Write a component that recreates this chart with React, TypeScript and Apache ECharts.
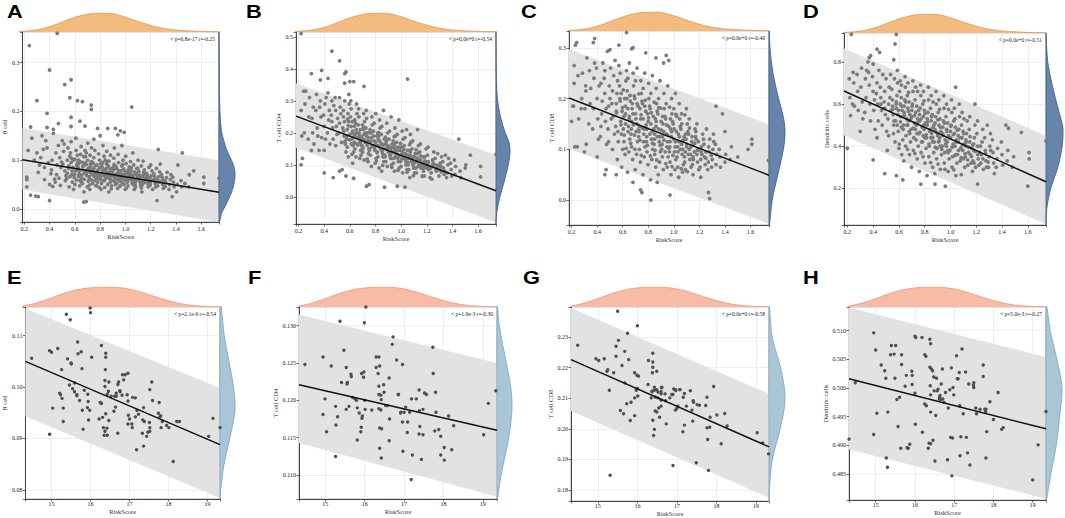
import React, { useEffect, useRef } from "react";
import * as echarts from "echarts";

// ---------------- DATA ----------------
const TOP_RISK_DENS = [[0.17,0.02],[0.2,0.04],[0.25,0.06],[0.3,0.1],[0.35,0.16],[0.4,0.25],[0.45,0.36],[0.5,0.49],[0.55,0.62],[0.6,0.74],[0.65,0.84],[0.7,0.92],[0.75,0.97],[0.8,1.0],[0.85,1.0],[0.9,0.97],[0.95,0.9],[1.0,0.8],[1.05,0.69],[1.1,0.57],[1.15,0.46],[1.2,0.36],[1.25,0.27],[1.3,0.2],[1.35,0.15],[1.4,0.11],[1.45,0.08],[1.5,0.06],[1.55,0.045],[1.6,0.03],[1.65,0.02],[1.75,0.01]];
const BOTTOM_RISK_DENS = [[14.3,0.04],[14.5,0.12],[14.75,0.25],[15.0,0.42],[15.25,0.6],[15.5,0.76],[15.75,0.88],[16.0,0.95],[16.25,0.99],[16.5,1.0],[16.75,0.97],[17.0,0.9],[17.25,0.78],[17.5,0.63],[17.75,0.47],[18.0,0.32],[18.25,0.2],[18.5,0.11],[18.75,0.06],[19.0,0.03],[19.4,0.01]];

const A_PTS = [[0.22,0.065],[0.23,0.12],[0.26,0.145],[0.28,0.1],[0.3,0.115],[0.31,0.075],[0.32,0.09],[0.34,0.15],[0.33,0.105],[0.35,0.122],[0.36,0.085],[0.37,0.14],[0.36,0.06],[0.39,0.095],[0.4,0.05],[0.38,0.125],[0.41,0.072],[0.42,0.1],[0.43,0.155],[0.415,0.08],[0.44,0.061],[0.425,0.046],[0.45,0.115],[0.46,0.09],[0.455,0.07],[0.47,0.13],[0.445,0.055],[0.48,0.105],[0.49,0.085],[0.475,0.063],[0.5,0.14],[0.485,0.048],[0.495,0.096],[0.51,0.118],[0.52,0.078],[0.505,0.092],[0.525,0.058],[0.515,0.133],[0.53,0.068],[0.54,0.1],[0.55,0.083],[0.535,0.062],[0.545,0.125],[0.555,0.045],[0.56,0.108],[0.54,0.073],[0.57,0.095],[0.575,0.07],[0.565,0.115],[0.58,0.055],[0.585,0.085],[0.57,0.138],[0.59,0.04],[0.6,0.102],[0.605,0.078],[0.595,0.064],[0.61,0.12],[0.615,0.089],[0.6,0.05],[0.62,0.11],[0.608,0.145],[0.63,0.093],[0.635,0.071],[0.625,0.085],[0.64,0.058],[0.645,0.112],[0.63,0.066],[0.65,0.128],[0.638,0.047],[0.628,0.1],[0.66,0.08],[0.665,0.095],[0.655,0.062],[0.67,0.107],[0.675,0.073],[0.66,0.052],[0.68,0.12],[0.668,0.088],[0.672,0.035],[0.69,0.091],[0.695,0.068],[0.685,0.078],[0.7,0.1],[0.705,0.057],[0.69,0.115],[0.71,0.084],[0.698,0.045],[0.702,0.135],[0.72,0.075],[0.725,0.088],[0.715,0.062],[0.73,0.097],[0.735,0.07],[0.72,0.11],[0.74,0.052],[0.728,0.082],[0.732,0.125],[0.718,0.04],[0.75,0.083],[0.755,0.066],[0.745,0.094],[0.76,0.058],[0.765,0.075],[0.75,0.105],[0.77,0.048],[0.758,0.12],[0.762,0.07],[0.78,0.079],[0.785,0.062],[0.775,0.09],[0.79,0.07],[0.795,0.1],[0.78,0.055],[0.8,0.085],[0.788,0.113],[0.792,0.044],[0.778,0.067],[0.81,0.073],[0.815,0.086],[0.805,0.06],[0.82,0.095],[0.825,0.068],[0.81,0.052],[0.83,0.108],[0.818,0.078],[0.822,0.13],[0.808,0.04],[0.84,0.07],[0.845,0.082],[0.835,0.058],[0.85,0.092],[0.855,0.064],[0.84,0.1],[0.86,0.05],[0.848,0.076],[0.852,0.118],[0.87,0.075],[0.875,0.063],[0.865,0.088],[0.88,0.055],[0.885,0.069],[0.87,0.098],[0.89,0.047],[0.878,0.082],[0.882,0.11],[0.868,0.035],[0.9,0.068],[0.905,0.08],[0.895,0.058],[0.91,0.091],[0.915,0.064],[0.9,0.073],[0.92,0.05],[0.908,0.104],[0.912,0.125],[0.93,0.072],[0.935,0.06],[0.925,0.085],[0.94,0.066],[0.945,0.095],[0.93,0.052],[0.95,0.078],[0.938,0.042],[0.942,0.112],[0.96,0.065],[0.965,0.078],[0.955,0.057],[0.97,0.088],[0.975,0.07],[0.96,0.048],[0.98,0.1],[0.968,0.062],[0.972,0.13],[0.99,0.07],[0.995,0.059],[0.985,0.082],[1.0,0.064],[1.005,0.093],[0.99,0.05],[1.01,0.075],[0.998,0.04],[1.002,0.108],[1.02,0.063],[1.025,0.074],[1.015,0.055],[1.03,0.086],[1.035,0.068],[1.02,0.047],[1.04,0.097],[1.028,0.06],[1.05,0.067],[1.055,0.058],[1.045,0.078],[1.06,0.05],[1.065,0.09],[1.05,0.062],[1.07,0.04],[1.058,0.115],[1.08,0.06],[1.085,0.072],[1.075,0.053],[1.09,0.083],[1.095,0.065],[1.08,0.045],[1.1,0.1],[1.11,0.064],[1.115,0.055],[1.105,0.077],[1.12,0.048],[1.125,0.088],[1.11,0.06],[1.13,0.035],[1.14,0.058],[1.145,0.07],[1.135,0.05],[1.15,0.08],[1.155,0.062],[1.14,0.098],[1.17,0.061],[1.175,0.052],[1.165,0.073],[1.18,0.045],[1.185,0.085],[1.17,0.066],[1.2,0.056],[1.205,0.068],[1.195,0.048],[1.21,0.078],[1.215,0.04],[1.2,0.09],[1.23,0.06],[1.235,0.052],[1.225,0.072],[1.24,0.045],[1.245,0.083],[1.26,0.055],[1.265,0.066],[1.255,0.047],[1.27,0.076],[1.275,0.092],[1.29,0.058],[1.295,0.05],[1.285,0.07],[1.3,0.042],[1.32,0.054],[1.325,0.064],[1.315,0.046],[1.33,0.075],[1.35,0.05],[1.355,0.06],[1.345,0.04],[1.36,0.07],[1.38,0.055],[1.385,0.045],[1.375,0.065],[1.41,0.05],[1.415,0.09],[1.405,0.035],[1.44,0.058],[1.445,0.045],[1.47,0.052],[1.5,0.045],[1.505,0.07]];
const A_CORE = [[0.552,0.088],[0.562,0.066],[0.578,0.078],[0.587,0.1],[0.598,0.071],[0.612,0.059],[0.622,0.082],[0.633,0.077],[0.642,0.097],[0.652,0.069],[0.662,0.087],[0.673,0.061],[0.683,0.094],[0.692,0.074],[0.703,0.082],[0.713,0.066],[0.722,0.092],[0.733,0.059],[0.743,0.079],[0.752,0.072],[0.763,0.089],[0.772,0.064],[0.783,0.074],[0.793,0.083],[0.802,0.066],[0.812,0.092],[0.822,0.058],[0.833,0.081],[0.843,0.063],[0.853,0.072],[0.862,0.086],[0.872,0.068],[0.882,0.061],[0.893,0.078],[0.902,0.085],[0.912,0.057],[0.922,0.069],[0.932,0.082],[0.943,0.074],[0.952,0.063],[0.962,0.072],[0.972,0.055],[0.983,0.066],[0.992,0.078],[1.003,0.069],[1.012,0.058],[1.022,0.08],[1.032,0.062],[1.043,0.071],[1.052,0.053],[1.062,0.068],[1.072,0.076],[1.083,0.057],[1.092,0.07],[1.102,0.062],[1.113,0.069],[1.122,0.054],[1.133,0.066],[1.142,0.075],[1.152,0.055],[1.163,0.063],[1.172,0.07],[1.183,0.058],[1.192,0.064],[1.212,0.059],[1.232,0.066],[1.252,0.061],[1.272,0.056],[1.292,0.064],[1.312,0.058],[0.573,0.104],[0.618,0.094],[0.684,0.107],[0.737,0.096],[0.806,0.093],[0.857,0.097],[0.926,0.087],[0.977,0.091],[1.046,0.084],[1.097,0.083],[0.647,0.056],[0.716,0.049],[0.767,0.047],[0.836,0.044],[0.887,0.041],[0.956,0.046],[1.006,0.042],[1.077,0.049],[1.126,0.043],[1.196,0.051]];
const A_OUT = [[0.24,0.335],[0.4,0.285],[0.52,0.255],[0.57,0.265],[0.56,0.228],[0.3,0.222],[0.62,0.222],[0.66,0.22],[0.73,0.213],[0.73,0.204],[1.05,0.209],[0.38,0.196],[0.57,0.188],[0.64,0.18],[0.47,0.175],[0.25,0.168],[0.38,0.167],[0.43,0.163],[0.57,0.169],[0.68,0.17],[0.86,0.165],[0.78,0.165],[0.92,0.165],[0.96,0.16],[0.99,0.157],[0.8,0.15],[0.75,0.143],[0.94,0.152],[1.26,0.122],[1.45,0.115],[1.54,0.078],[1.62,0.065],[1.62,0.052],[1.74,0.063],[0.46,0.36],[0.4,0.017],[0.22,0.045],[0.22,0.06],[0.25,0.028],[0.29,0.026],[0.31,0.025],[0.67,0.014],[0.69,0.015],[1.25,0.017],[1.37,0.025]];

const B_PTS = [[0.22,0.27],[0.225,0.19],[0.25,0.29],[0.245,0.2],[0.255,0.33],[0.28,0.25],[0.285,0.31],[0.275,0.18],[0.31,0.2],[0.315,0.28],[0.305,0.245],[0.32,0.165],[0.3,0.145],[0.34,0.32],[0.345,0.215],[0.335,0.27],[0.35,0.19],[0.37,0.3],[0.375,0.25],[0.365,0.28],[0.38,0.185],[0.36,0.145],[0.4,0.22],[0.405,0.29],[0.395,0.255],[0.41,0.18],[0.415,0.31],[0.4,0.145],[0.43,0.325],[0.435,0.24],[0.425,0.2],[0.44,0.27],[0.445,0.165],[0.46,0.3],[0.465,0.215],[0.455,0.255],[0.47,0.18],[0.475,0.285],[0.46,0.235],[0.49,0.27],[0.495,0.22],[0.485,0.31],[0.5,0.195],[0.505,0.245],[0.49,0.16],[0.52,0.23],[0.525,0.28],[0.515,0.2],[0.53,0.26],[0.535,0.17],[0.52,0.31],[0.54,0.085],[0.55,0.25],[0.555,0.19],[0.545,0.215],[0.56,0.3],[0.565,0.165],[0.55,0.27],[0.57,0.14],[0.558,0.235],[0.58,0.21],[0.585,0.26],[0.575,0.18],[0.59,0.235],[0.595,0.29],[0.58,0.155],[0.6,0.195],[0.588,0.125],[0.592,0.32],[0.61,0.22],[0.615,0.18],[0.605,0.25],[0.62,0.2],[0.625,0.16],[0.61,0.275],[0.63,0.14],[0.618,0.235],[0.622,0.105],[0.608,0.3],[0.64,0.195],[0.645,0.23],[0.635,0.17],[0.65,0.21],[0.655,0.26],[0.64,0.15],[0.66,0.185],[0.648,0.125],[0.652,0.29],[0.638,0.24],[0.67,0.2],[0.675,0.17],[0.665,0.225],[0.68,0.185],[0.685,0.145],[0.67,0.25],[0.69,0.16],[0.678,0.12],[0.682,0.21],[0.668,0.275],[0.7,0.18],[0.705,0.21],[0.695,0.16],[0.71,0.195],[0.715,0.235],[0.7,0.14],[0.72,0.17],[0.708,0.26],[0.712,0.115],[0.698,0.225],[0.73,0.19],[0.735,0.16],[0.725,0.215],[0.74,0.175],[0.745,0.135],[0.73,0.245],[0.75,0.15],[0.738,0.2],[0.742,0.11],[0.728,0.27],[0.76,0.17],[0.765,0.2],[0.755,0.15],[0.77,0.185],[0.775,0.225],[0.76,0.13],[0.78,0.16],[0.768,0.095],[0.772,0.25],[0.758,0.21],[0.79,0.175],[0.795,0.145],[0.785,0.205],[0.8,0.16],[0.805,0.12],[0.79,0.23],[0.81,0.19],[0.798,0.105],[0.802,0.26],[0.82,0.16],[0.825,0.19],[0.815,0.14],[0.83,0.175],[0.835,0.215],[0.82,0.125],[0.84,0.15],[0.828,0.09],[0.832,0.24],[0.818,0.2],[0.85,0.165],[0.855,0.135],[0.845,0.195],[0.86,0.15],[0.865,0.11],[0.85,0.22],[0.87,0.18],[0.858,0.125],[0.862,0.27],[0.848,0.08],[0.88,0.15],[0.885,0.175],[0.875,0.125],[0.89,0.16],[0.895,0.2],[0.88,0.11],[0.9,0.14],[0.888,0.23],[0.892,0.095],[0.878,0.185],[0.91,0.155],[0.915,0.13],[0.905,0.18],[0.92,0.14],[0.925,0.1],[0.91,0.205],[0.93,0.165],[0.918,0.12],[0.922,0.25],[0.94,0.14],[0.945,0.165],[0.935,0.12],[0.95,0.15],[0.955,0.19],[0.94,0.105],[0.96,0.13],[0.948,0.08],[0.952,0.215],[0.938,0.175],[0.97,0.145],[0.975,0.12],[0.965,0.17],[0.98,0.13],[0.985,0.09],[0.97,0.195],[0.99,0.155],[0.978,0.11],[0.982,0.24],[1.0,0.13],[1.005,0.155],[0.995,0.11],[1.01,0.14],[1.015,0.18],[1.0,0.095],[1.02,0.12],[1.008,0.205],[1.012,0.075],[1.03,0.135],[1.035,0.11],[1.025,0.16],[1.04,0.12],[1.045,0.085],[1.03,0.185],[1.05,0.145],[1.038,0.1],[1.042,0.21],[1.06,0.12],[1.065,0.145],[1.055,0.1],[1.07,0.13],[1.075,0.17],[1.06,0.085],[1.08,0.11],[1.068,0.06],[1.072,0.195],[1.09,0.125],[1.095,0.1],[1.085,0.15],[1.1,0.11],[1.105,0.075],[1.09,0.175],[1.11,0.135],[1.098,0.09],[1.12,0.11],[1.125,0.135],[1.115,0.09],[1.13,0.12],[1.135,0.16],[1.12,0.075],[1.14,0.1],[1.128,0.21],[1.15,0.115],[1.155,0.09],[1.145,0.14],[1.16,0.1],[1.165,0.065],[1.15,0.165],[1.17,0.125],[1.18,0.1],[1.185,0.125],[1.175,0.08],[1.19,0.11],[1.195,0.15],[1.18,0.065],[1.2,0.09],[1.21,0.105],[1.215,0.085],[1.205,0.13],[1.22,0.095],[1.225,0.06],[1.21,0.155],[1.24,0.095],[1.245,0.115],[1.235,0.075],[1.25,0.105],[1.255,0.14],[1.24,0.055],[1.27,0.1],[1.275,0.08],[1.265,0.12],[1.28,0.09],[1.285,0.135],[1.3,0.085],[1.305,0.105],[1.295,0.065],[1.31,0.095],[1.315,0.125],[1.33,0.09],[1.335,0.07],[1.325,0.11],[1.34,0.08],[1.345,0.13],[1.36,0.075],[1.365,0.1],[1.355,0.06],[1.37,0.12],[1.39,0.085],[1.395,0.065],[1.385,0.105],[1.42,0.07],[1.425,0.095],[1.415,0.115],[1.46,0.08],[1.465,0.06],[1.5,0.09],[1.505,0.1]];
const B_CORE = [[0.552,0.205],[0.562,0.172],[0.578,0.19],[0.587,0.222],[0.598,0.178],[0.612,0.165],[0.622,0.205],[0.633,0.188],[0.642,0.168],[0.652,0.2],[0.662,0.162],[0.673,0.195],[0.683,0.17],[0.692,0.188],[0.703,0.152],[0.713,0.178],[0.722,0.2],[0.733,0.168],[0.743,0.185],[0.752,0.145],[0.763,0.175],[0.772,0.158],[0.783,0.19],[0.793,0.152],[0.802,0.17],[0.812,0.138],[0.822,0.18],[0.833,0.155],[0.843,0.168],[0.853,0.142],[0.862,0.162],[0.872,0.13],[0.882,0.168],[0.893,0.148],[0.902,0.158],[0.912,0.128],[0.922,0.152],[0.932,0.138],[0.943,0.158],[0.952,0.122],[0.962,0.14],[0.972,0.155],[0.983,0.128],[0.992,0.145],[1.003,0.118],[1.012,0.135],[1.022,0.148],[1.032,0.12],[1.043,0.132],[1.052,0.108],[1.062,0.128],[1.072,0.14],[1.083,0.118],[1.092,0.1],[1.102,0.125],[1.113,0.108],[1.122,0.12],[1.133,0.095],[1.142,0.112],[1.152,0.128],[1.163,0.105],[1.172,0.09],[1.183,0.112],[1.192,0.098],[1.212,0.11],[1.232,0.09],[1.252,0.1],[1.272,0.085],[1.292,0.098],[1.312,0.078],[0.583,0.243],[0.636,0.221],[0.706,0.218],[0.757,0.201],[0.826,0.2],[0.877,0.186],[0.946,0.188],[0.996,0.167],[1.066,0.163],[1.117,0.147],[0.617,0.133],[0.687,0.13],[0.736,0.118],[0.807,0.112],[0.856,0.098],[0.927,0.092],[0.976,0.083],[1.047,0.077],[1.096,0.066],[1.166,0.064]];
const B_OUT = [[0.46,0.455],[0.52,0.425],[0.3,0.385],[0.38,0.395],[0.37,0.365],[0.43,0.37],[0.57,0.39],[0.56,0.385],[0.56,0.355],[0.6,0.36],[0.71,0.345],[1.05,0.368],[0.63,0.36],[0.22,0.51],[0.24,0.33],[0.22,0.1],[0.23,0.12],[0.4,0.075],[0.47,0.06],[1.45,0.18],[1.54,0.13],[1.62,0.095],[1.62,0.062],[1.74,0.133],[0.73,0.033],[0.75,0.038],[0.87,0.03],[0.97,0.033],[1.03,0.03],[0.52,0.08],[0.63,0.058],[0.57,0.065]];

const C_PTS = [[0.22,0.23],[0.225,0.105],[0.215,0.185],[0.25,0.245],[0.255,0.16],[0.245,0.105],[0.28,0.2],[0.285,0.25],[0.275,0.18],[0.31,0.225],[0.315,0.11],[0.305,0.18],[0.32,0.28],[0.3,0.095],[0.312,0.215],[0.34,0.255],[0.345,0.19],[0.335,0.15],[0.35,0.22],[0.37,0.18],[0.375,0.24],[0.365,0.14],[0.38,0.27],[0.4,0.2],[0.405,0.16],[0.395,0.26],[0.41,0.12],[0.415,0.225],[0.4,0.085],[0.43,0.23],[0.435,0.17],[0.425,0.125],[0.44,0.195],[0.445,0.27],[0.43,0.145],[0.46,0.21],[0.465,0.155],[0.455,0.24],[0.47,0.18],[0.475,0.11],[0.46,0.255],[0.49,0.185],[0.495,0.225],[0.485,0.14],[0.5,0.2],[0.505,0.26],[0.49,0.115],[0.51,0.16],[0.52,0.215],[0.525,0.165],[0.515,0.19],[0.53,0.245],[0.535,0.13],[0.52,0.1],[0.54,0.275],[0.55,0.175],[0.555,0.21],[0.545,0.145],[0.56,0.235],[0.565,0.115],[0.55,0.19],[0.57,0.265],[0.558,0.08],[0.58,0.195],[0.585,0.155],[0.575,0.225],[0.59,0.13],[0.595,0.175],[0.58,0.25],[0.6,0.1],[0.588,0.21],[0.592,0.065],[0.61,0.165],[0.615,0.2],[0.605,0.14],[0.62,0.185],[0.625,0.235],[0.61,0.115],[0.63,0.255],[0.618,0.09],[0.622,0.15],[0.64,0.18],[0.645,0.145],[0.635,0.215],[0.65,0.16],[0.655,0.12],[0.64,0.24],[0.66,0.195],[0.648,0.095],[0.652,0.27],[0.638,0.055],[0.67,0.155],[0.675,0.19],[0.665,0.13],[0.68,0.17],[0.685,0.225],[0.67,0.105],[0.69,0.205],[0.678,0.08],[0.682,0.25],[0.668,0.14],[0.7,0.17],[0.705,0.135],[0.695,0.2],[0.71,0.15],[0.715,0.115],[0.7,0.235],[0.72,0.185],[0.708,0.09],[0.712,0.26],[0.698,0.06],[0.73,0.145],[0.735,0.18],[0.725,0.125],[0.74,0.16],[0.745,0.21],[0.73,0.1],[0.75,0.195],[0.738,0.075],[0.742,0.235],[0.728,0.135],[0.76,0.16],[0.765,0.13],[0.755,0.19],[0.77,0.14],[0.775,0.105],[0.76,0.22],[0.78,0.175],[0.768,0.085],[0.772,0.25],[0.758,0.05],[0.79,0.14],[0.795,0.17],[0.785,0.115],[0.8,0.155],[0.805,0.2],[0.79,0.095],[0.81,0.185],[0.798,0.07],[0.802,0.23],[0.788,0.125],[0.82,0.15],[0.825,0.12],[0.815,0.18],[0.83,0.135],[0.835,0.1],[0.82,0.21],[0.84,0.165],[0.828,0.08],[0.832,0.245],[0.818,0.04],[0.85,0.13],[0.855,0.16],[0.845,0.11],[0.86,0.145],[0.865,0.19],[0.85,0.09],[0.87,0.175],[0.858,0.065],[0.862,0.22],[0.848,0.12],[0.88,0.14],[0.885,0.115],[0.875,0.17],[0.89,0.125],[0.895,0.095],[0.88,0.2],[0.9,0.155],[0.888,0.075],[0.892,0.235],[0.878,0.05],[0.91,0.125],[0.915,0.15],[0.905,0.1],[0.92,0.135],[0.925,0.18],[0.91,0.085],[0.93,0.165],[0.918,0.06],[0.922,0.21],[0.908,0.11],[0.94,0.13],[0.945,0.105],[0.935,0.16],[0.95,0.115],[0.955,0.085],[0.94,0.19],[0.96,0.145],[0.948,0.065],[0.952,0.225],[0.97,0.115],[0.975,0.14],[0.965,0.095],[0.98,0.125],[0.985,0.17],[0.97,0.075],[0.99,0.155],[0.978,0.05],[0.982,0.2],[0.968,0.105],[1.0,0.12],[1.005,0.095],[0.995,0.15],[1.01,0.105],[1.015,0.08],[1.0,0.18],[1.02,0.135],[1.008,0.06],[1.012,0.21],[1.03,0.105],[1.035,0.13],[1.025,0.085],[1.04,0.115],[1.045,0.16],[1.03,0.065],[1.05,0.145],[1.038,0.045],[1.042,0.19],[1.06,0.11],[1.065,0.09],[1.055,0.14],[1.07,0.1],[1.075,0.07],[1.06,0.17],[1.08,0.125],[1.068,0.055],[1.09,0.095],[1.095,0.12],[1.085,0.075],[1.1,0.105],[1.105,0.15],[1.09,0.06],[1.11,0.135],[1.098,0.18],[1.12,0.1],[1.125,0.08],[1.115,0.13],[1.13,0.09],[1.135,0.065],[1.12,0.16],[1.14,0.115],[1.15,0.085],[1.155,0.11],[1.145,0.07],[1.16,0.095],[1.165,0.14],[1.15,0.05],[1.17,0.125],[1.18,0.09],[1.185,0.075],[1.175,0.12],[1.19,0.1],[1.195,0.06],[1.18,0.15],[1.21,0.08],[1.215,0.105],[1.205,0.065],[1.22,0.09],[1.225,0.13],[1.21,0.045],[1.24,0.085],[1.245,0.07],[1.235,0.11],[1.25,0.095],[1.255,0.14],[1.27,0.075],[1.275,0.095],[1.265,0.06],[1.28,0.12],[1.3,0.08],[1.305,0.1],[1.295,0.065],[1.31,0.13],[1.33,0.07],[1.335,0.09],[1.325,0.11],[1.36,0.085],[1.365,0.065],[1.355,0.1],[1.4,0.075],[1.405,0.09],[1.44,0.08]];
const C_CORE = [[0.552,0.172],[0.562,0.135],[0.578,0.2],[0.587,0.148],[0.598,0.182],[0.612,0.128],[0.622,0.17],[0.633,0.2],[0.642,0.135],[0.652,0.165],[0.662,0.112],[0.673,0.18],[0.683,0.148],[0.692,0.128],[0.703,0.16],[0.713,0.19],[0.722,0.138],[0.733,0.118],[0.743,0.168],[0.752,0.142],[0.763,0.115],[0.772,0.185],[0.783,0.148],[0.793,0.108],[0.802,0.162],[0.812,0.13],[0.822,0.172],[0.833,0.112],[0.843,0.14],[0.853,0.098],[0.862,0.155],[0.872,0.125],[0.882,0.182],[0.893,0.108],[0.902,0.138],[0.912,0.165],[0.922,0.118],[0.932,0.095],[0.943,0.148],[0.952,0.128],[0.962,0.102],[0.972,0.16],[0.983,0.135],[0.992,0.088],[1.003,0.14],[1.012,0.115],[1.022,0.165],[1.032,0.095],[1.043,0.125],[1.052,0.1],[1.062,0.15],[1.072,0.118],[1.083,0.085],[1.092,0.13],[1.102,0.11],[1.113,0.09],[1.122,0.142],[1.133,0.105],[1.142,0.125],[1.152,0.08],[1.163,0.112],[1.172,0.135],[1.183,0.098],[1.192,0.115],[1.212,0.095],[1.232,0.12],[1.252,0.082],[1.272,0.105],[1.292,0.088],[1.312,0.115],[0.604,0.217],[0.657,0.206],[0.726,0.209],[0.777,0.197],[0.846,0.193],[0.897,0.181],[0.966,0.183],[1.016,0.169],[1.086,0.168],[0.627,0.102],[0.696,0.1],[0.746,0.088],[0.816,0.087],[0.866,0.079],[0.937,0.072],[0.986,0.066],[1.057,0.062],[1.106,0.056]];
const C_OUT = [[0.24,0.31],[0.23,0.305],[0.37,0.31],[0.38,0.318],[0.63,0.33],[0.57,0.305],[0.5,0.296],[0.48,0.293],[0.67,0.298],[0.68,0.3],[0.78,0.29],[0.86,0.28],[0.94,0.285],[0.92,0.27],[0.96,0.275],[0.22,0.265],[0.2,0.155],[0.21,0.185],[0.82,0.0],[0.97,0.01],[1.28,0.003],[1.27,0.015],[0.74,0.02],[0.75,0.015],[0.87,0.035],[0.68,0.035],[1.61,0.12],[1.61,0.11],[1.58,0.1],[1.74,0.078],[1.5,0.085],[1.45,0.105],[1.4,0.135],[1.38,0.17],[1.33,0.185],[0.46,0.05],[0.47,0.06],[0.55,0.05]];

const D_PTS = [[0.22,0.63],[0.225,0.545],[0.215,0.72],[0.25,0.7],[0.255,0.59],[0.245,0.75],[0.28,0.66],[0.285,0.57],[0.275,0.74],[0.31,0.77],[0.315,0.61],[0.305,0.68],[0.32,0.53],[0.3,0.47],[0.34,0.72],[0.345,0.63],[0.335,0.56],[0.35,0.76],[0.37,0.69],[0.375,0.6],[0.365,0.75],[0.38,0.52],[0.4,0.66],[0.405,0.57],[0.395,0.73],[0.41,0.62],[0.415,0.48],[0.4,0.79],[0.43,0.7],[0.435,0.6],[0.425,0.65],[0.44,0.52],[0.445,0.76],[0.43,0.44],[0.46,0.63],[0.465,0.57],[0.455,0.68],[0.47,0.5],[0.475,0.74],[0.46,0.6],[0.49,0.66],[0.495,0.55],[0.485,0.61],[0.5,0.72],[0.505,0.47],[0.49,0.58],[0.51,0.38],[0.52,0.6],[0.525,0.68],[0.515,0.53],[0.53,0.63],[0.535,0.74],[0.52,0.45],[0.54,0.57],[0.55,0.62],[0.555,0.55],[0.545,0.67],[0.56,0.5],[0.565,0.72],[0.55,0.59],[0.57,0.42],[0.558,0.46],[0.58,0.58],[0.585,0.64],[0.575,0.52],[0.59,0.7],[0.595,0.47],[0.58,0.61],[0.6,0.39],[0.588,0.76],[0.592,0.55],[0.61,0.6],[0.615,0.54],[0.605,0.66],[0.62,0.49],[0.625,0.57],[0.61,0.71],[0.63,0.43],[0.618,0.63],[0.622,0.36],[0.64,0.56],[0.645,0.62],[0.635,0.5],[0.65,0.68],[0.655,0.45],[0.64,0.59],[0.66,0.53],[0.648,0.73],[0.652,0.4],[0.638,0.33],[0.67,0.58],[0.675,0.52],[0.665,0.64],[0.68,0.47],[0.685,0.55],[0.67,0.7],[0.69,0.42],[0.678,0.61],[0.682,0.36],[0.668,0.5],[0.7,0.54],[0.705,0.6],[0.695,0.48],[0.71,0.66],[0.715,0.44],[0.7,0.57],[0.72,0.51],[0.708,0.71],[0.712,0.38],[0.698,0.3],[0.73,0.56],[0.735,0.5],[0.725,0.62],[0.74,0.46],[0.745,0.53],[0.73,0.68],[0.75,0.4],[0.738,0.59],[0.742,0.34],[0.728,0.48],[0.76,0.52],[0.765,0.58],[0.755,0.46],[0.77,0.64],[0.775,0.42],[0.76,0.55],[0.78,0.49],[0.768,0.69],[0.772,0.37],[0.758,0.28],[0.79,0.54],[0.795,0.48],[0.785,0.6],[0.8,0.44],[0.805,0.51],[0.79,0.66],[0.81,0.39],[0.798,0.57],[0.802,0.32],[0.788,0.45],[0.82,0.5],[0.825,0.56],[0.815,0.44],[0.83,0.62],[0.835,0.4],[0.82,0.53],[0.84,0.47],[0.828,0.68],[0.832,0.35],[0.818,0.26],[0.85,0.52],[0.855,0.46],[0.845,0.58],[0.86,0.42],[0.865,0.49],[0.85,0.64],[0.87,0.37],[0.858,0.55],[0.862,0.3],[0.848,0.44],[0.88,0.48],[0.885,0.54],[0.875,0.42],[0.89,0.6],[0.895,0.39],[0.88,0.51],[0.9,0.45],[0.888,0.66],[0.892,0.34],[0.878,0.27],[0.91,0.5],[0.915,0.44],[0.905,0.56],[0.92,0.4],[0.925,0.47],[0.91,0.62],[0.93,0.36],[0.918,0.53],[0.922,0.29],[0.908,0.42],[0.94,0.46],[0.945,0.52],[0.935,0.4],[0.95,0.58],[0.955,0.37],[0.94,0.49],[0.96,0.43],[0.948,0.64],[0.952,0.32],[0.97,0.48],[0.975,0.42],[0.965,0.54],[0.98,0.38],[0.985,0.45],[0.97,0.6],[0.99,0.34],[0.978,0.51],[0.982,0.28],[0.968,0.4],[1.0,0.44],[1.005,0.5],[0.995,0.38],[1.01,0.56],[1.015,0.35],[1.0,0.47],[1.02,0.41],[1.008,0.62],[1.012,0.3],[1.03,0.46],[1.035,0.4],[1.025,0.52],[1.04,0.36],[1.045,0.43],[1.03,0.58],[1.05,0.32],[1.038,0.49],[1.042,0.26],[1.06,0.42],[1.065,0.48],[1.055,0.36],[1.07,0.54],[1.075,0.33],[1.06,0.45],[1.08,0.39],[1.068,0.6],[1.09,0.44],[1.095,0.38],[1.085,0.5],[1.1,0.34],[1.105,0.41],[1.09,0.56],[1.11,0.3],[1.098,0.47],[1.12,0.4],[1.125,0.46],[1.115,0.35],[1.13,0.52],[1.135,0.31],[1.12,0.43],[1.14,0.37],[1.15,0.42],[1.155,0.36],[1.145,0.48],[1.16,0.32],[1.165,0.39],[1.15,0.54],[1.17,0.28],[1.18,0.38],[1.185,0.44],[1.175,0.33],[1.19,0.5],[1.195,0.3],[1.18,0.41],[1.21,0.4],[1.215,0.34],[1.205,0.46],[1.22,0.31],[1.225,0.37],[1.21,0.52],[1.24,0.36],[1.245,0.42],[1.235,0.32],[1.25,0.48],[1.255,0.29],[1.27,0.38],[1.275,0.33],[1.265,0.44],[1.28,0.3],[1.285,0.5],[1.3,0.35],[1.305,0.4],[1.295,0.3],[1.31,0.46],[1.33,0.37],[1.335,0.32],[1.325,0.43],[1.34,0.27],[1.36,0.34],[1.365,0.39],[1.355,0.3],[1.4,0.36],[1.405,0.31],[1.395,0.42],[1.44,0.33],[1.445,0.38],[1.48,0.3]];
const D_CORE = [[0.552,0.575],[0.562,0.52],[0.578,0.6],[0.587,0.5],[0.598,0.57],[0.612,0.515],[0.622,0.59],[0.633,0.48],[0.642,0.545],[0.652,0.61],[0.662,0.5],[0.673,0.565],[0.683,0.46],[0.692,0.53],[0.703,0.59],[0.713,0.485],[0.722,0.545],[0.733,0.43],[0.743,0.51],[0.752,0.57],[0.763,0.465],[0.772,0.53],[0.783,0.42],[0.793,0.5],[0.802,0.555],[0.812,0.455],[0.822,0.515],[0.833,0.41],[0.843,0.48],[0.853,0.54],[0.862,0.44],[0.872,0.5],[0.882,0.395],[0.893,0.465],[0.902,0.525],[0.912,0.425],[0.922,0.49],[0.932,0.385],[0.943,0.45],[0.952,0.51],[0.962,0.41],[0.972,0.47],[0.983,0.37],[0.992,0.44],[1.003,0.495],[1.012,0.395],[1.022,0.455],[1.032,0.355],[1.043,0.42],[1.052,0.475],[1.062,0.38],[1.072,0.44],[1.083,0.345],[1.092,0.405],[1.102,0.46],[1.113,0.365],[1.122,0.42],[1.133,0.335],[1.142,0.395],[1.152,0.445],[1.163,0.35],[1.172,0.405],[1.183,0.32],[1.192,0.375],[1.212,0.36],[1.232,0.4],[1.252,0.34],[1.272,0.365],[1.292,0.325],[1.312,0.38],[0.62,0.69],[0.675,0.655],[0.745,0.66],[0.795,0.615],[0.865,0.61],[0.915,0.575],[0.985,0.575],[1.035,0.53],[1.105,0.53],[0.603,0.41],[0.667,0.385],[0.724,0.365],[0.787,0.35],[0.846,0.322],[0.904,0.315],[0.957,0.29],[1.026,0.288],[1.084,0.265]];
const D_OUT = [[0.23,0.93],[0.58,0.93],[0.57,0.885],[0.43,0.86],[0.45,0.845],[0.37,0.82],[0.38,0.83],[0.36,0.8],[0.56,0.81],[0.2,0.39],[0.24,0.6],[0.4,0.335],[0.49,0.27],[0.58,0.26],[0.63,0.24],[0.77,0.22],[0.88,0.22],[0.96,0.21],[1.21,0.22],[1.6,0.21],[1.61,0.37],[1.61,0.34],[1.55,0.465],[1.49,0.35],[1.74,0.425],[1.45,0.485],[1.43,0.5],[1.19,0.6],[1.04,0.68]];

const E_PTS = [[15.38,0.1142],[15.48,0.1131],[15.99,0.1154],[16.0,0.1145],[14.49,0.1056],[14.95,0.1071],[15.0,0.1068],[15.16,0.1075],[15.67,0.1088],[15.76,0.1069],[16.28,0.1081],[16.39,0.1066],[16.39,0.1058],[15.41,0.1055],[15.51,0.1045],[15.5,0.1047],[15.26,0.1034],[15.78,0.1036],[15.68,0.1065],[16.03,0.1058],[16.38,0.1034],[16.37,0.1013],[16.47,0.101],[16.37,0.1001],[16.46,0.0992],[16.43,0.0986],[16.28,0.0968],[16.25,0.097],[16.22,0.0938],[16.31,0.0941],[16.39,0.0948],[16.47,0.0935],[16.33,0.0921],[16.37,0.0914],[16.43,0.0906],[16.35,0.0906],[16.42,0.092],[16.6,0.0953],[16.66,0.0988],[16.66,0.0982],[16.72,0.101],[16.7,0.1005],[16.75,0.0993],[16.64,0.0961],[16.7,0.091],[16.62,0.0982],[16.53,0.0982],[16.82,0.1024],[16.89,0.1024],[16.85,0.1014],[16.96,0.1027],[16.94,0.0985],[17.08,0.098],[16.97,0.0945],[16.96,0.0928],[17.0,0.0938],[17.06,0.0928],[17.07,0.0921],[17.15,0.0942],[17.19,0.0955],[17.23,0.0947],[17.15,0.0979],[17.34,0.0936],[17.36,0.096],[17.38,0.0933],[17.44,0.0904],[17.33,0.091],[17.18,0.0878],[17.36,0.0885],[17.51,0.0931],[17.52,0.0921],[17.52,0.0914],[17.47,0.0912],[17.52,0.0995],[17.57,0.101],[17.59,0.0974],[17.76,0.097],[17.74,0.0949],[17.78,0.0942],[17.8,0.0944],[17.81,0.0921],[17.84,0.0933],[17.95,0.0925],[18.01,0.0921],[18.21,0.0933],[18.28,0.0933],[18.12,0.0855],[19.03,0.0904],[19.14,0.0939],[19.32,0.0921],[15.65,0.0983],[15.72,0.0974],[15.54,0.0997],[15.59,0.0991],[15.46,0.1004],[15.84,0.0994],[15.79,0.0955],[15.92,0.096],[15.94,0.0972],[15.98,0.0955],[15.95,0.0936],[15.81,0.0918],[15.3,0.0959],[15.23,0.0985],[15.21,0.0988],[15.3,0.0933],[15.03,0.0959],[14.95,0.0908],[15.65,0.0985],[15.59,0.1008],[15.93,0.0986],[14.31,0.0982],[16.96,0.0973],[16.81,0.0984],[16.76,0.0991],[15.27,0.0978]];

const F_PTS = [[14.48,0.1248],[14.94,0.1258],[15.37,0.1306],[15.47,0.1267],[15.15,0.1246],[16.03,0.1325],[15.99,0.1304],[14.94,0.1181],[14.99,0.1202],[15.03,0.1158],[15.26,0.1192],[15.31,0.1178],[15.27,0.1167],[15.26,0.1125],[15.41,0.1224],[15.53,0.1244],[15.56,0.1224],[15.55,0.1222],[15.66,0.1232],[15.65,0.1235],[15.6,0.1192],[15.53,0.1188],[15.69,0.1204],[15.75,0.1202],[15.79,0.12],[15.81,0.1147],[15.9,0.1158],[15.92,0.1236],[15.97,0.1231],[15.94,0.1179],[15.93,0.1176],[15.98,0.1238],[16.01,0.1188],[15.91,0.1164],[16.29,0.1258],[16.29,0.1244],[16.36,0.1258],[16.38,0.1246],[16.34,0.1236],[16.36,0.1208],[16.36,0.1189],[16.38,0.1163],[16.38,0.1136],[16.36,0.1219],[16.41,0.1207],[16.42,0.1201],[16.41,0.1187],[16.42,0.1123],[16.43,0.1162],[16.48,0.1221],[16.49,0.1211],[16.53,0.1193],[16.58,0.1193],[16.63,0.1175],[16.62,0.1146],[16.62,0.123],[16.7,0.1275],[16.72,0.1285],[16.81,0.1254],[16.85,0.1208],[16.91,0.1183],[16.92,0.1184],[16.96,0.1248],[16.96,0.1171],[16.97,0.1132],[17.0,0.1184],[17.04,0.1191],[17.08,0.1157],[17.09,0.1171],[17.14,0.1184],[17.19,0.1202],[17.31,0.1202],[17.38,0.1214],[17.39,0.1186],[17.4,0.1165],[17.18,0.1094],[17.21,0.1127],[17.38,0.1155],[17.44,0.1121],[17.48,0.1154],[17.48,0.1188],[17.52,0.121],[17.57,0.1208],[17.8,0.1211],[17.74,0.1236],[17.81,0.1184],[17.73,0.1271],[17.88,0.1161],[17.93,0.1127],[17.93,0.1152],[18.02,0.1137],[18.13,0.1179],[18.21,0.1134],[18.02,0.112],[18.26,0.1166],[19.02,0.1154],[19.14,0.1196],[19.33,0.1213],[16.86,0.1208],[15.86,0.1183],[15.81,0.119],[16.18,0.1187],[16.0,0.12],[17.78,0.1159]];

const G_PTS = [[14.49,0.2273],[14.95,0.2229],[15.02,0.2223],[15.16,0.2229],[15.23,0.2188],[15.25,0.2193],[15.29,0.2126],[15.4,0.2183],[15.46,0.2237],[15.46,0.227],[15.52,0.2289],[15.61,0.2207],[15.68,0.2253],[15.68,0.215],[15.75,0.2312],[15.78,0.2226],[15.57,0.206],[15.65,0.2049],[15.82,0.2027],[15.84,0.2087],[15.93,0.2183],[15.93,0.2043],[15.97,0.2126],[15.99,0.2175],[16.03,0.2172],[16.01,0.2107],[16.0,0.2132],[15.31,0.1848],[16.28,0.2223],[16.37,0.2121],[16.37,0.2123],[16.39,0.2247],[16.39,0.2218],[16.39,0.2201],[16.38,0.2183],[16.43,0.2136],[16.43,0.2126],[16.45,0.2058],[16.39,0.2028],[16.41,0.1978],[16.43,0.1998],[16.49,0.2188],[16.49,0.2128],[16.52,0.212],[16.49,0.2055],[16.56,0.2038],[16.52,0.2101],[16.54,0.2068],[16.6,0.2074],[16.6,0.2121],[16.62,0.2136],[16.7,0.2114],[16.71,0.2092],[16.73,0.2016],[16.61,0.2134],[16.6,0.2114],[16.87,0.2112],[16.9,0.2112],[16.92,0.213],[16.9,0.188],[16.96,0.2061],[16.97,0.2125],[16.97,0.2128],[17.0,0.2066],[17.02,0.2074],[17.07,0.2128],[17.08,0.2128],[17.15,0.199],[17.16,0.2103],[17.19,0.2115],[17.19,0.2012],[17.24,0.2074],[17.34,0.2124],[17.38,0.2061],[17.4,0.2025],[17.42,0.2087],[17.41,0.2092],[17.49,0.1889],[17.51,0.2079],[17.57,0.2077],[17.73,0.2076],[17.76,0.2103],[17.76,0.2003],[17.78,0.1965],[17.8,0.1864],[17.83,0.2005],[17.84,0.2038],[17.93,0.2138],[18.01,0.2045],[18.12,0.1951],[18.21,0.205],[18.27,0.2009],[19.03,0.1987],[19.17,0.1954],[19.32,0.1918],[15.73,0.2082],[15.93,0.2101],[16.35,0.2101],[16.45,0.2104],[16.6,0.2093],[16.82,0.2101],[16.27,0.2145],[15.5,0.2384],[16.0,0.2337]];

const H_PTS = [[14.32,0.4911],[14.48,0.5009],[14.95,0.5096],[15.0,0.5066],[15.03,0.4956],[14.95,0.4919],[15.14,0.504],[15.23,0.503],[15.26,0.5017],[15.27,0.4878],[15.3,0.4862],[15.31,0.4958],[15.38,0.5058],[15.4,0.5074],[15.47,0.5059],[15.51,0.5074],[15.49,0.5017],[15.54,0.498],[15.57,0.4933],[15.61,0.4984],[15.64,0.4895],[15.66,0.5041],[15.66,0.5058],[15.75,0.5003],[15.78,0.5022],[15.8,0.4896],[15.83,0.4895],[15.87,0.4902],[15.92,0.5029],[15.93,0.5022],[15.93,0.5006],[16.0,0.4991],[16.01,0.4937],[16.02,0.5088],[16.0,0.509],[16.18,0.5088],[16.19,0.4923],[16.25,0.5058],[16.28,0.5055],[16.29,0.4969],[16.34,0.4895],[16.36,0.4904],[16.38,0.5085],[16.4,0.5077],[16.38,0.5036],[16.39,0.5004],[16.4,0.4988],[16.4,0.4958],[16.4,0.4903],[16.42,0.5033],[16.45,0.503],[16.46,0.4909],[16.48,0.5019],[16.49,0.4995],[16.51,0.4873],[16.53,0.4952],[16.55,0.5017],[16.57,0.4995],[16.59,0.4998],[16.62,0.4981],[16.63,0.4984],[16.64,0.4987],[16.67,0.5007],[16.7,0.5033],[16.71,0.4981],[16.74,0.4975],[16.83,0.4875],[16.85,0.4965],[16.89,0.4997],[16.91,0.4914],[16.94,0.4847],[16.93,0.5035],[16.96,0.4913],[16.97,0.5001],[16.99,0.4988],[17.06,0.5056],[17.08,0.5016],[17.1,0.5016],[17.13,0.5027],[17.14,0.4969],[17.15,0.4882],[17.17,0.4915],[17.2,0.5068],[17.23,0.4955],[17.29,0.5028],[17.31,0.4914],[17.34,0.4887],[17.37,0.5007],[17.4,0.4866],[17.49,0.5005],[17.5,0.5009],[17.5,0.5001],[17.55,0.4965],[17.57,0.4955],[17.66,0.4963],[17.74,0.504],[17.74,0.502],[17.78,0.4963],[17.81,0.4963],[17.8,0.4959],[17.83,0.4924],[17.81,0.4878],[17.91,0.4976],[18.0,0.4945],[18.12,0.4992],[18.21,0.4928],[18.25,0.4931],[19.0,0.484],[19.14,0.4901],[19.34,0.4959],[16.66,0.498],[16.25,0.4972],[16.78,0.4992]];

// axis ranges
const A_XR = [0.185, 1.74], A_YR = [-0.027, 0.363];
const B_XR = [0.18, 1.74], B_YR = [-0.085, 0.515];
const C_XR = [0.18, 1.744], C_YR = [-0.049, 0.333];
const D_XR = [0.174, 1.741], D_YR = [0.026, 0.937];
const E_XR = [14.33, 19.32], E_YR = [0.0782, 0.1156];
const F_XR = [14.33, 19.36], F_YR = [0.1068, 0.1325];
const G_XR = [14.32, 19.33], G_YR = [0.1764, 0.2398];
const H_XR = [14.32, 19.34], H_YR = [0.4805, 0.5141];

// fitted lines [x, y] at both ends
const A_FIT = [[0.185, 0.101], [1.74, 0.034]];
const B_FIT = [[0.18, 0.252], [1.74, 0.019]];
const C_FIT = [[0.18, 0.201], [1.744, 0.049]];
const D_FIT = [[0.174, 0.662], [1.741, 0.231]];
const E_FIT = [[14.33, 0.105], [19.32, 0.0888]];
const F_FIT = [[14.33, 0.1221], [19.36, 0.116]];
const G_FIT = [[14.32, 0.2226], [19.33, 0.1941]];
const H_FIT = [[14.32, 0.5016], [19.34, 0.4929]];

// prediction bands [x, lower, upper] at both ends
const A_BAND = [[0.185, 0.039, 0.166], [1.74, -0.027, 0.1]];
const B_BAND = [[0.18, 0.153, 0.354], [1.74, -0.08, 0.131]];
const C_BAND = [[0.18, 0.101, 0.297], [1.744, -0.047, 0.149]];
const D_BAND = [[0.174, 0.451, 0.864], [1.741, 0.03, 0.45]];
const E_BAND = [[14.33, 0.0943, 0.1153], [19.32, 0.0784, 0.0998]];
const F_BAND = [[14.33, 0.1143, 0.1315], [19.36, 0.1071, 0.125]];
const G_BAND = [[14.32, 0.2058, 0.2395], [19.33, 0.1775, 0.2114]];
const H_BAND = [[14.32, 0.4893, 0.514], [19.34, 0.4807, 0.5054]];

// right marginal densities [y, density]
const A_RDENS = [[-0.027,0.03],[-0.01,0.15],[0.0,0.3],[0.02,0.6],[0.04,0.85],[0.06,0.98],[0.075,1.0],[0.09,0.9],[0.1,0.78],[0.12,0.5],[0.14,0.3],[0.16,0.15],[0.2,0.06],[0.25,0.02],[0.363,0.0]];
const B_RDENS = [[-0.085,0.0],[-0.05,0.05],[0.0,0.28],[0.05,0.6],[0.1,0.88],[0.14,1.0],[0.17,0.93],[0.2,0.66],[0.25,0.32],[0.3,0.12],[0.35,0.04],[0.4,0.015],[0.515,0.0]];
const C_RDENS = [[-0.049,0.03],[0.0,0.2],[0.05,0.55],[0.1,0.9],[0.13,1.0],[0.16,0.92],[0.2,0.6],[0.25,0.25],[0.3,0.06],[0.333,0.02]];
const D_RDENS = [[0.026,0.0],[0.1,0.04],[0.2,0.28],[0.3,0.7],[0.4,0.95],[0.46,1.0],[0.5,0.97],[0.6,0.64],[0.7,0.34],[0.8,0.1],[0.9,0.02],[0.937,0.0]];
const E_RDENS = [[0.0782,0.02],[0.08,0.05],[0.085,0.27],[0.09,0.65],[0.0955,1.0],[0.1,0.9],[0.105,0.6],[0.11,0.28],[0.1156,0.08]];
const F_RDENS = [[0.1068,0.03],[0.11,0.27],[0.115,0.78],[0.119,1.0],[0.122,0.9],[0.125,0.62],[0.13,0.15],[0.1325,0.04]];
const G_RDENS = [[0.1764,0.0],[0.18,0.02],[0.19,0.2],[0.2,0.69],[0.21,1.0],[0.22,0.73],[0.23,0.2],[0.2398,0.03]];
const H_RDENS = [[0.4805,0.03],[0.485,0.3],[0.49,0.64],[0.495,0.85],[0.5,1.0],[0.505,0.68],[0.51,0.26],[0.5141,0.06]];

const LETTERS = ["A", "B", "C", "D", "E", "F", "G", "H"];
const Y_NAMES = ["B cell", "T cell CD4", "T cell CD8", "Dendritic cells", "B cell", "T cell CD4", "T cell CD8", "Dendritic cells"];
const STATS = ["< p=6.8e-17 r=-0.25", "< p=0.0e+0 r=-0.54", "< p=0.0e+0 r=-0.40", "< p=0.0e+0 r=-0.51", "< p=2.1e-9 r=-0.54", "< p=1.9e-3 r=-0.30", "< p=0.0e+0 r=-0.58", "< p=5.0e-3 r=-0.27"];
const X_NAME = "RiskScore";

// ---------------- LAYOUT / STYLE ----------------
const LAYOUT = [
  { l: 20, t: 32, r: 219, b: 222, rw: 16, lx: 7, ly: 2, yGap: 10 },
  { l: 296, t: 32, r: 496, b: 224, rw: 14, lx: 246, ly: 2, yGap: 10 },
  { l: 569, t: 31, r: 769, b: 225, rw: 16, lx: 521, ly: 2, yGap: 10 },
  { l: 844, t: 33, r: 1046, b: 225, rw: 17, lx: 803, ly: 2, yGap: 11 },
  { l: 23, t: 307, r: 220, b: 499, rw: 15, lx: 7, ly: 268, yGap: 12 },
  { l: 299, t: 307, r: 497, b: 499, rw: 15, lx: 248, ly: 268, yGap: 14 },
  { l: 571, t: 307, r: 769, b: 502, rw: 16, lx: 523, ly: 268, yGap: 11 },
  { l: 849, t: 307, r: 1046, b: 500, rw: 16, lx: 803, ly: 268, yGap: 14 },
];
const ROW_STYLE = [
  { topFill: "#f4bb7f", topLine: "#e49b55", rFill: "#6784ab", rLine: "#46648c", pt: "#7b7b7b", ptSize: 3.8, xGap: 11, xMargin: 4, dh: 19 },
  { topFill: "#f8bba6", topLine: "#ef9a80", rFill: "#a8c6d5", rLine: "#86aac0", pt: "#4f4f4f", ptSize: 3.4, xGap: 9, xMargin: 2, dh: 20 },
];
const SERIF = "'Liberation Serif', 'DejaVu Serif', serif";

const PANELS = [
  { pts: [...A_PTS, ...A_CORE, ...A_OUT], xr: A_XR, yr: A_YR, fit: A_FIT, band: A_BAND, rd: A_RDENS, xStep: 0.2, yStep: 0.1, xDec: 1, yDec: 1, xSplit: 8, ySplit: 4, row: 0 },
  { pts: [...B_PTS, ...B_CORE, ...B_OUT], xr: B_XR, yr: B_YR, fit: B_FIT, band: B_BAND, rd: B_RDENS, xStep: 0.2, yStep: 0.1, xDec: 1, yDec: 1, xSplit: 8, ySplit: 6, row: 0 },
  { pts: [...C_PTS, ...C_CORE, ...C_OUT], xr: C_XR, yr: C_YR, fit: C_FIT, band: C_BAND, rd: C_RDENS, xStep: 0.2, yStep: 0.1, xDec: 1, yDec: 1, xSplit: 8, ySplit: 4, row: 0 },
  { pts: [...D_PTS, ...D_CORE, ...D_OUT], xr: D_XR, yr: D_YR, fit: D_FIT, band: D_BAND, rd: D_RDENS, xStep: 0.2, yStep: 0.2, xDec: 1, yDec: 1, xSplit: 8, ySplit: 5, row: 0 },
  { pts: E_PTS, xr: E_XR, yr: E_YR, fit: E_FIT, band: E_BAND, rd: E_RDENS, xStep: 1, yStep: 0.01, xDec: 0, yDec: 2, xSplit: 4, ySplit: 4, row: 1 },
  { pts: F_PTS, xr: F_XR, yr: F_YR, fit: F_FIT, band: F_BAND, rd: F_RDENS, xStep: 1, yStep: 0.005, xDec: 0, yDec: 3, xSplit: 4, ySplit: 5, row: 1 },
  { pts: G_PTS, xr: G_XR, yr: G_YR, fit: G_FIT, band: G_BAND, rd: G_RDENS, xStep: 1, yStep: 0.01, xDec: 0, yDec: 2, xSplit: 4, ySplit: 6, row: 1 },
  { pts: H_PTS, xr: H_XR, yr: H_YR, fit: H_FIT, band: H_BAND, rd: H_RDENS, xStep: 1, yStep: 0.005, xDec: 0, yDec: 3, xSplit: 4, ySplit: 7, row: 1 },
];

function tickFmt(step: number, dec: number) {
  return (v: number) => {
    const k = v / step;
    return Math.abs(k - Math.round(k)) < 1e-6 ? v.toFixed(dec) : "";
  };
}

function topDensity(row: number) {
  return row === 0 ? TOP_RISK_DENS : BOTTOM_RISK_DENS;
}

function buildOption() {
  const grid: any[] = [];
  const xAxis: any[] = [];
  const yAxis: any[] = [];
  const series: any[] = [];
  const graphic: any[] = [];

  PANELS.forEach((p, i) => {
    const L = LAYOUT[i];
    const S = ROW_STYLE[p.row];
    const g = grid.length;
    const w = L.r - L.l;
    const h = L.b - L.t;
    grid.push({ left: L.l, top: L.t, width: w, height: h, show: true, backgroundColor: "#fff", borderColor: "#a0a0a0", borderWidth: 0.8 });
    grid.push({ left: L.l, top: L.t - S.dh, width: w, height: S.dh, show: false });
    grid.push({ left: L.r, top: L.t, width: L.rw, height: h, show: false });

    const axisText = { fontFamily: SERIF, fontSize: 6, color: "#1a1a1a" };
    xAxis.push({
      gridIndex: g, type: "value", min: p.xr[0], max: p.xr[1], splitNumber: p.xSplit,
      name: X_NAME, nameLocation: "middle", nameGap: S.xGap,
      nameTextStyle: { fontFamily: SERIF, fontSize: 6.5, color: "#333" },
      axisLine: { show: true, onZero: false, lineStyle: { color: "#333", width: 0.9 } },
      axisTick: { show: true, length: 2.5, lineStyle: { color: "#333", width: 0.7 } },
      axisLabel: { ...axisText, margin: S.xMargin, formatter: tickFmt(p.xStep, p.xDec) },
      splitLine: { show: true, lineStyle: { color: "#e6e6e6", width: 0.7 } },
    });
    yAxis.push({
      gridIndex: g, type: "value", min: p.yr[0], max: p.yr[1], splitNumber: p.ySplit,
      name: Y_NAMES[i], nameLocation: "middle", nameGap: L.yGap, nameRotate: 90,
      nameTextStyle: { fontFamily: SERIF, fontSize: 6.5, color: "#333" },
      axisLine: { show: true, onZero: false, lineStyle: { color: "#333", width: 0.9 } },
      axisTick: { show: true, length: 2.5, lineStyle: { color: "#333", width: 0.7 } },
      axisLabel: { ...axisText, margin: 3, formatter: tickFmt(p.yStep, p.yDec) },
      splitLine: { show: true, lineStyle: { color: "#e6e6e6", width: 0.7 } },
    });
    xAxis.push({ gridIndex: g + 1, type: "value", min: p.xr[0], max: p.xr[1], show: false, splitLine: { show: false } });
    yAxis.push({ gridIndex: g + 1, type: "value", min: 0, max: 1, show: false, splitLine: { show: false } });
    xAxis.push({ gridIndex: g + 2, type: "value", min: 0, max: 1, show: false, splitLine: { show: false } });
    yAxis.push({ gridIndex: g + 2, type: "value", min: p.yr[0], max: p.yr[1], show: false, splitLine: { show: false } });

    const band = p.band;
    series.push({
      type: "custom", xAxisIndex: g, yAxisIndex: g, silent: true, z: 1,
      data: [[band[0][0], band[0][1]]],
      renderItem: (_params: any, api: any) => {
        const pts = [
          api.coord([band[0][0], band[0][1]]),
          api.coord([band[1][0], band[1][1]]),
          api.coord([band[1][0], band[1][2]]),
          api.coord([band[0][0], band[0][2]]),
        ];
        return { type: "polygon", shape: { points: pts }, style: { fill: "#e2e2e2", stroke: "none" } };
      },
    });
    series.push({
      type: "scatter", xAxisIndex: g, yAxisIndex: g, silent: true, z: 2,
      data: p.pts, symbol: "circle", symbolSize: S.ptSize,
      itemStyle: { color: S.pt, opacity: 1 },
    });
    series.push({
      type: "line", xAxisIndex: g, yAxisIndex: g, silent: true, z: 3,
      data: p.fit, symbol: "none", lineStyle: { color: "#111", width: 1.5 },
    });
    series.push({
      type: "line", xAxisIndex: g + 1, yAxisIndex: g + 1, silent: true, z: 2,
      data: topDensity(p.row), smooth: 0.5, symbol: "none",
      lineStyle: { color: S.topLine, width: 0.9 },
      areaStyle: { color: S.topFill, opacity: 1 },
    });
    const rd = p.rd;
    series.push({
      type: "custom", xAxisIndex: g + 2, yAxisIndex: g + 2, silent: true, z: 2,
      data: [[0, rd[0][0]]],
      renderItem: (_params: any, api: any) => {
        const pts: number[][] = [api.coord([0, rd[0][0]])];
        rd.forEach((d: number[]) => pts.push(api.coord([d[1], d[0]])));
        pts.push(api.coord([0, rd[rd.length - 1][0]]));
        return {
          type: "polygon",
          shape: { points: pts, smooth: 0.35 },
          style: { fill: S.rFill, stroke: S.rLine, lineWidth: 0.9 },
        };
      },
    });

    graphic.push({
      type: "text", x: L.lx, y: L.ly, scaleX: 1.15, z: 100,
      style: { text: LETTERS[i], fontSize: 19, fontWeight: "bold", fontFamily: "'Liberation Sans', Arial, sans-serif", fill: "#000", align: "left", verticalAlign: "top" },
    });
    graphic.push({
      type: "text", x: L.r - 4, y: L.t + 7, z: 100,
      style: { text: STATS[i], fontSize: 5.5, fontFamily: SERIF, fill: "#222", align: "right", verticalAlign: "middle" },
    });
  });

  return { animation: false, backgroundColor: "#fff", grid, xAxis, yAxis, series, graphic };
}

export default function App() {
  const ref = useRef<HTMLDivElement>(null);
  useEffect(() => {
    if (!ref.current) return;
    const chart = echarts.init(ref.current, undefined, { renderer: "svg" });
    chart.setOption(buildOption() as any);
    return () => chart.dispose();
  }, []);
  return <div ref={ref} style={{ position: "fixed", left: 0, top: 0, width: 1065, height: 518, background: "#fff" }} />;
}
